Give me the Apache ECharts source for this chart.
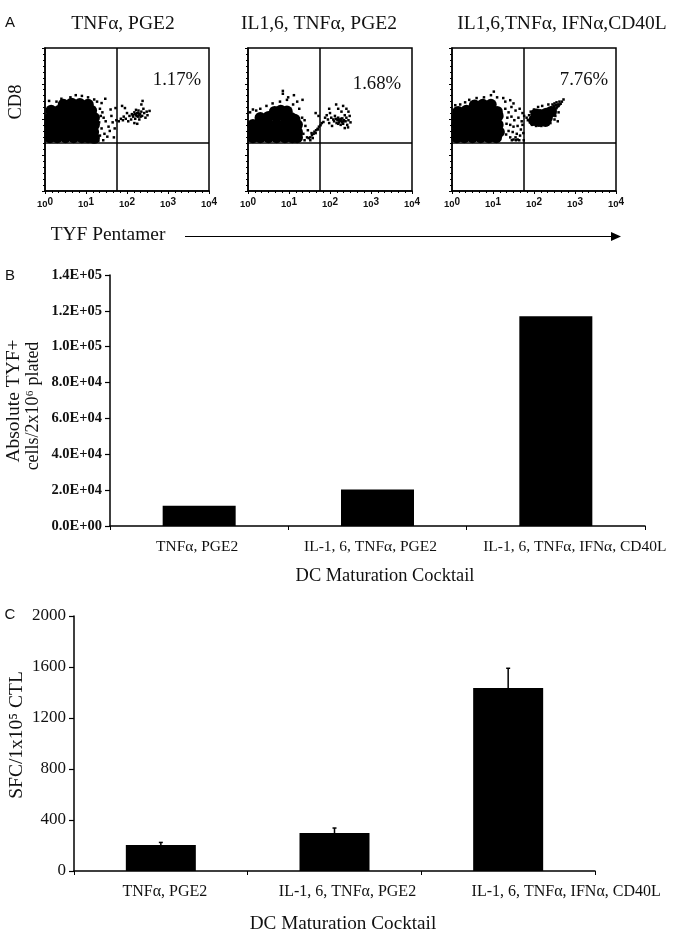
<!DOCTYPE html>
<html><head><meta charset="utf-8">
<style>html,body{margin:0;padding:0;background:#fff}#c{width:674px;height:943px}</style>
<script src="https://cdn.jsdelivr.net/npm/echarts@6/dist/echarts.min.js"></script>
</head><body><div id="c"></div>
<script>
// ---- Panel A: flow cytometry, values are log10 decades
const decades = [0, 1, 2, 3, 4];
const quadrantX = 1.76;
const quadrantY = 1.34;
const flowTitles = ['TNFα, PGE2', 'IL1,6, TNFα, PGE2', 'IL1,6,TNFα, IFNα,CD40L'];
const flowPercents = ['1.17%', '1.68%', '7.76%'];

const dense1 = [
[.45,2.42],[.65,2.45],[.85,2.44],[1.05,2.42],
[.15,2.25],[.35,2.25],[.55,2.25],[.75,2.25],[.95,2.25],[1.13,2.25],
[.12,2.05],[.3,2.05],[.5,2.05],[.7,2.05],[.9,2.05],[1.08,2.05],[1.2,2.05],
[.12,1.85],[.3,1.85],[.5,1.85],[.7,1.85],[.9,1.85],[1.08,1.85],[1.2,1.85],
[.12,1.65],[.3,1.65],[.5,1.65],[.7,1.65],[.9,1.65],[1.08,1.65],[1.18,1.65],
[.12,1.5],[.3,1.5],[.5,1.5],[.7,1.5],[.9,1.5],[1.05,1.5],[1.2,1.48]];
const sparse1 = [
[.1,2.52],[.28,2.5],[.4,2.58],[.62,2.62],[.75,2.68],[.9,2.66],[1.05,2.62],[1.2,2.56],[1.27,2.5],[1.38,2.46],[1.47,2.58],
[1.34,2.3],[1.4,2.2],[1.36,2.1],[1.43,2.05],[1.48,1.95],[1.55,1.8],[1.38,1.75],[1.45,1.6],[1.34,1.55],[1.52,1.52],
[1.62,2.1],[1.65,1.92],[1.58,1.68],[1.7,1.75],[1.68,1.5],[1.72,2.32],[1.6,2.28],[1.32,1.92],[1.42,1.42],[1.3,1.4],[1.74,1.98],
[1.8,1.95],[1.85,2.02],[1.9,1.98],[1.92,2.08],[1.97,2.02],[2,2.18],[2.03,1.95],[2.06,2.1],[2.1,2.0],[2.12,2.15],[2.15,2.08],
[2.18,2.2],[2.2,2.02],[2.22,2.12],[2.25,2.18],[2.27,2.08],[2.28,2.25],[2.3,2.0],[2.32,2.15],[2.35,2.22],[2.37,2.1],[2.4,2.3],
[2.42,2.18],[2.45,2.05],[2.48,2.22],[2.5,2.12],[2.55,2.24],[2.25,1.88],[2.18,1.9],[2.35,2.42],[2.38,2.52],[1.88,2.38],[1.95,2.32],
[2.22,2.27],[2.14,2.12],[2.2,2.15],[2.24,2.1],[2.3,2.13],[2.28,2.18],[2.33,2.08]];

const dense2 = [
[.65,2.22],[.8,2.25],[.95,2.23],
[.3,2.05],[.5,2.08],[.7,2.08],[.9,2.08],[1.05,2.05],[1.14,2.0],
[.12,1.85],[.3,1.85],[.5,1.85],[.7,1.85],[.9,1.85],[1.08,1.85],[1.2,1.85],
[.12,1.65],[.3,1.65],[.5,1.65],[.7,1.65],[.9,1.65],[1.08,1.65],[1.2,1.65],
[.12,1.5],[.3,1.5],[.5,1.5],[.7,1.5],[.9,1.5],[1.08,1.5],[1.2,1.5]];
const sparse2 = [
[.05,2.2],[.12,2.28],[.2,2.25],[.3,2.3],[.45,2.38],[.6,2.45],[.78,2.5],[.95,2.55],[1.1,2.42],[1.2,2.5],[1.25,2.3],[.85,2.8],[.85,2.72],[1.12,2.68],[.98,2.62],[1.33,2.55],
[1.32,2.05],[1.38,1.98],[1.4,1.82],[1.46,1.7],[1.35,1.6],[1.44,1.5],[1.38,1.42],
[1.48,1.48],[1.52,1.5],[1.56,1.56],[1.6,1.6],[1.62,1.66],[1.66,1.7],[1.7,1.74],[1.73,1.8],[1.77,1.84],[1.8,1.9],[1.84,1.93],[1.55,1.62],[1.65,1.62],[1.58,1.48],[1.52,1.42],[1.72,2.1],[1.65,2.18],[1.7,1.72],
[1.88,2.05],[1.92,2.12],[1.95,2.0],[1.98,1.9],[2,2.18],[2.03,2.05],[2.05,1.82],[2.08,2.0],[2.1,1.95],[2.12,2.1],[2.14,2.02],[2.16,1.9],
[2.18,1.98],[2.2,2.05],[2.22,1.92],[2.24,2.0],[2.26,1.85],[2.28,1.95],[2.3,2.03],[2.32,1.88],[2.34,1.98],[2.36,2.12],[2.38,1.95],[2.4,2.05],[2.42,1.85],[2.45,1.98],[2.48,2.1],[2.5,1.92],[2.45,2.22],[2.4,2.3],[2.32,2.38],[2.28,2.22],[2.2,2.3],[2.15,2.42],[1.98,2.3],[2.36,1.76],[2.44,1.78],
[2.25,1.97],[2.3,1.92],[2.2,1.88],[2.27,2.02],[2.33,1.95],[2.22,1.98]];

const dense3 = [
[.55,2.4],[.75,2.42],[.95,2.42],
[.15,2.22],[.35,2.25],[.55,2.25],[.75,2.25],[.95,2.25],[1.1,2.22],
[.12,2.05],[.3,2.05],[.5,2.05],[.7,2.05],[.9,2.05],[1.08,2.05],[1.12,2.1],
[.12,1.85],[.3,1.85],[.5,1.85],[.7,1.85],[.9,1.85],[1.08,1.85],[1.12,1.85],
[.12,1.65],[.3,1.65],[.5,1.65],[.7,1.65],[.9,1.65],[1.08,1.65],[1.15,1.65],
[.12,1.5],[.3,1.5],[.5,1.5],[.7,1.5],[.9,1.5],[1.08,1.5],
[2.05,2.03],[2.2,1.98],[2.32,2.05],[2.15,2.13],[2.3,2.17],[2.42,2.22],[2.05,2.15],[2.0,1.98],[2.2,2.06],[2.12,1.95],[2.28,1.95]];
const sparse3 = [
[.08,2.4],[.2,2.42],[.32,2.48],[.42,2.55],[.6,2.6],[.78,2.62],[.95,2.68],[1.02,2.78],[1.1,2.62],[1.25,2.6],[1.3,2.5],[1.42,2.54],[1.5,2.45],
[1.3,2.3],[1.38,2.2],[1.45,2.35],[1.55,2.25],[1.65,2.3],[1.72,2.18],[1.35,2.05],[1.45,2.08],[1.52,1.98],[1.62,2.05],[1.7,1.95],
[1.33,1.88],[1.42,1.85],[1.5,1.8],[1.6,1.82],[1.68,1.72],[1.38,1.68],[1.48,1.65],[1.58,1.6],[1.66,1.55],[1.74,1.62],[1.32,1.58],[1.75,1.42],[1.42,1.5],[1.72,1.85],[1.76,2.1],[1.64,1.42],[1.5,1.44],[1.55,1.5],[1.6,1.44],[1.46,1.42],[1.56,1.42],
[1.82,2.05],[1.85,1.98],[1.88,2.12],[1.9,1.92],[1.92,2.22],[1.95,1.85],[2.0,2.28],[2.05,1.82],[2.1,2.35],[2.18,1.82],[2.2,2.38],[2.3,1.85],[2.35,2.42],[2.4,1.9],[2.45,2.42],[2.5,2.0],[2.52,2.1],[2.5,2.35],[2.55,2.32],[2.58,2.42],[2.6,2.38],[2.62,2.5],[2.65,2.44],[2.68,2.5],[2.72,2.56],[2.55,2.48],[2.5,2.45],[2.6,2.2],[2.58,1.95],
[2.45,2.3],[2.53,2.4],[2.57,2.36],[2.62,2.42],[2.48,2.38],[2.42,2.33],[2.52,2.28]];
const flowDense = [dense1, dense2, dense3];
const flowSparse = [sparse1, sparse2, sparse3];

// ---- Panel B
const categories = ['TNFα, PGE2', 'IL-1, 6, TNFα, PGE2', 'IL-1, 6, TNFα, IFNα, CD40L'];
const absoluteValues = [11300, 20300, 117000];
const absoluteTicks = 20000;
const absoluteMax = 140000;

// ---- Panel C
const sfcValues = [204, 298, 1435];
const sfcUpper = [224, 337, 1590];
const sfcTicks = 400;
const sfcMax = 2000;

const SERIF = '"Liberation Serif","Times New Roman",serif';
const SANS = '"Liberation Sans",Arial,sans-serif';
const T = '#111';

const flowLefts = [45, 248, 452];
const grids = flowLefts.map(l => ({left: l, top: 48, width: 164, height: 143, show: true, borderColor: '#000', borderWidth: 1.5, backgroundColor: 'transparent'}));
grids.push({left: 110, top: 275, width: 535, height: 251});
grids.push({left: 74, top: 616, width: 521, height: 255});

const xAxes = [], yAxes = [], series = [];
flowLefts.forEach((l, i) => {
  xAxes.push({type: 'value', gridIndex: i, min: decades[0], max: decades[4], interval: 1, splitLine: {show: false},
    axisLine: {show: true, lineStyle: {color: '#000', width: 1.5}},
    axisTick: {length: 3, lineStyle: {color: '#000', width: 1}},
    minorTick: {show: true, splitNumber: 6, length: 2, lineStyle: {color: '#000', width: 1}},
    axisLabel: {margin: 6, formatter: v => '10{s|' + v + '}', color: T, fontFamily: SANS, fontWeight: 'bold', fontSize: 9.5,
      rich: {s: {fontSize: 10, fontFamily: SANS, fontWeight: 'bold', color: T, verticalAlign: 'bottom', padding: [0, 0, 4, 0]}}}});
  yAxes.push({type: 'value', gridIndex: i, min: decades[0], max: decades[4], interval: 1, splitLine: {show: false},
    axisLine: {show: true, lineStyle: {color: '#000', width: 1.5}},
    axisTick: {length: 3, lineStyle: {color: '#000', width: 1}},
    minorTick: {show: true, splitNumber: 6, length: 2, lineStyle: {color: '#000', width: 1}},
    axisLabel: {show: false}});
  series.push({type: 'scatter', xAxisIndex: i, yAxisIndex: i, data: flowDense[i], symbol: 'circle', symbolSize: 11.5, itemStyle: {color: '#000', opacity: 1}, silent: true, animation: false});
  series.push({type: 'scatter', xAxisIndex: i, yAxisIndex: i, data: flowSparse[i], symbol: 'rect', symbolSize: 2.5, itemStyle: {color: '#000', opacity: 1}, silent: true, animation: false,
    markLine: {silent: true, symbol: 'none', animation: false, label: {show: false}, lineStyle: {color: '#000', width: 1.5, type: 'solid'},
      data: [{xAxis: quadrantX}, {yAxis: quadrantY}]}});
});

function barAxes(gi, yMax, yStep, labelFont, shifts, yFmt, tickLen, xMargin, yWeight) {
  const rich = {};
  shifts.forEach((s, i) => {
    rich['l' + i] = {fontFamily: SERIF, fontSize: labelFont, color: T, fontWeight: 'normal',
      padding: s >= 0 ? [0, 0, 0, 2 * s] : [0, -2 * s, 0, 0]};
  });
  xAxes.push({type: 'category', gridIndex: gi, data: categories,
    axisLine: {lineStyle: {color: '#000', width: 1.5}},
    axisTick: {show: true, length: 4, lineStyle: {color: '#000', width: 1}},
    axisLabel: {interval: 0, hideOverlap: false, margin: xMargin, formatter: (v, i) => '{l' + i + '|' + v + '}', rich}});
  yAxes.push({type: 'value', gridIndex: gi, min: 0, max: yMax, interval: yStep, splitLine: {show: false},
    axisLine: {show: true, lineStyle: {color: '#000', width: 1.5}},
    axisTick: {show: true, length: tickLen, lineStyle: {color: '#000', width: 1.2}},
    axisLabel: {margin: 8, formatter: yFmt, fontFamily: SERIF, color: T, fontSize: yWeight[0], fontWeight: yWeight[1]}});
}
barAxes(3, absoluteMax, absoluteTicks, 15.5, [-2, -7, 19], v => v === 0 ? '0.0E+00' : (v / 1e4 >= 10 ? (v / 1e5).toFixed(1) + 'E+05' : (v / 1e4).toFixed(1) + 'E+04'), 5, 13, [14.5, 'bold']);
barAxes(4, sfcMax, sfcTicks, 16, [4, 13, 58], v => String(v), 5, 13, [17, 'normal']);

series.push({type: 'bar', xAxisIndex: 3, yAxisIndex: 3, data: absoluteValues, barWidth: 73, itemStyle: {color: '#000'}, silent: true, animation: false});
series.push({type: 'bar', xAxisIndex: 4, yAxisIndex: 4, data: sfcValues, barWidth: 70, itemStyle: {color: '#000'}, silent: true, animation: false});
series.push({type: 'custom', xAxisIndex: 4, yAxisIndex: 4, silent: true, animation: false, encode: {x: 0, y: [1, 2]},
  data: categories.map((c, i) => [i, sfcValues[i], sfcUpper[i]]),
  renderItem: (p, api) => {
    const a = api.coord([api.value(0), api.value(1)]);
    const b = api.coord([api.value(0), api.value(2)]);
    const st = {stroke: '#000', lineWidth: 1.5};
    return {type: 'group', children: [
      {type: 'line', shape: {x1: a[0], y1: a[1], x2: b[0], y2: b[1]}, style: st},
      {type: 'line', shape: {x1: b[0] - 2, y1: b[1], x2: b[0] + 2, y2: b[1]}, style: st}]};
  }});

function txt(x, y, text, size, opts) {
  opts = opts || {};
  return {type: 'text', x, y, rotation: opts.rot || 0, silent: true,
    style: {text, fontFamily: opts.font || SERIF, fontSize: size, fill: T, fontWeight: opts.weight || 'normal', align: opts.align || 'center', verticalAlign: 'middle'}};
}
const R90 = Math.PI / 2;
const graphic = [
  txt(10, 23, 'A', 15, {font: SANS}), txt(10, 276, 'B', 15, {font: SANS}), txt(10, 615, 'C', 15, {font: SANS}),
  txt(123, 24, flowTitles[0], 19.5), txt(319, 24, flowTitles[1], 19.5), txt(562, 24, flowTitles[2], 19.5),
  txt(177, 80, flowPercents[0], 18.8), txt(377, 84, flowPercents[1], 18.8), txt(584, 80, flowPercents[2], 18.8),
  txt(16, 102, 'CD8', 18.5, {rot: R90}),
  txt(108, 235, 'TYF Pentamer', 19.4),
  {type: 'line', silent: true, shape: {x1: 185, y1: 236.5, x2: 612, y2: 236.5}, style: {stroke: '#000', lineWidth: 1.2}},
  {type: 'polygon', silent: true, shape: {points: [[611, 232], [621, 236.5], [611, 241]]}, style: {fill: '#000'}},
  txt(14, 401, 'Absolute TYF+', 19.5, {rot: R90}),
  txt(33, 406, 'cells/2x10⁶ plated', 18, {rot: R90}),
  txt(385, 576, 'DC Maturation Cocktail', 18.4),
  txt(17, 735, 'SFC/1x10⁵ CTL', 19.5, {rot: R90}),
  txt(343, 924, 'DC Maturation Cocktail', 19.2)
];

const chart = echarts.init(document.getElementById('c'), null, {renderer: 'canvas'});
chart.setOption({animation: false, backgroundColor: '#fff', grid: grids, xAxis: xAxes, yAxis: yAxes, series, graphic});
</script></body></html>
